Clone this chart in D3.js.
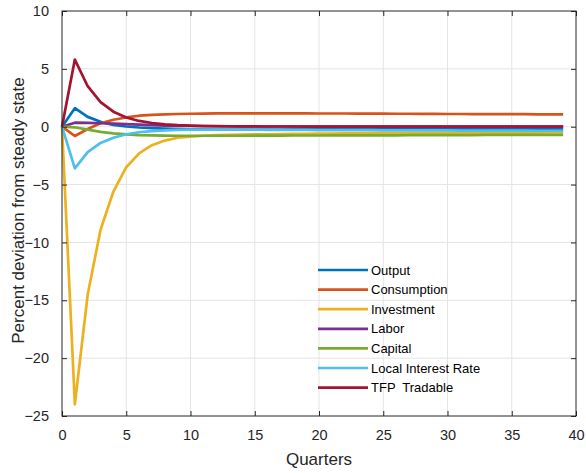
<!DOCTYPE html>
<html>
<head>
<meta charset="utf-8">
<script src="https://cdn.jsdelivr.net/npm/d3@7/dist/d3.min.js"></script>
<style>
  html, body { margin: 0; padding: 0; background: #fff; }
  svg { display: block; font-family: "Liberation Sans", Arial, Helvetica, sans-serif; }
</style>
</head>
<body>
<svg id="chart" width="586" height="473"></svg>
<script>
// Impulse responses to a tradable TFP shock, quarters 0..39
const quarters = d3.range(0, 40);

const output = [0, 1.6, 0.85, 0.42, 0.16, 0.02, -0.07, -0.13, -0.17, -0.2, -0.22, -0.23, -0.24, -0.24, -0.24, -0.24, -0.24, -0.24, -0.23, -0.23,
  -0.23, -0.23, -0.22, -0.22, -0.22, -0.22, -0.21, -0.21, -0.21, -0.21, -0.21, -0.2, -0.2, -0.2, -0.2, -0.2, -0.2, -0.2, -0.2, -0.2];
const consumption = [0, -0.8, -0.2, 0.3, 0.6, 0.8, 0.95, 1.02, 1.07, 1.1, 1.12, 1.13, 1.15, 1.15, 1.15, 1.15, 1.15, 1.15, 1.15, 1.15,
  1.14, 1.14, 1.14, 1.13, 1.13, 1.13, 1.12, 1.12, 1.11, 1.11, 1.1, 1.1, 1.09, 1.09, 1.08, 1.08, 1.08, 1.07, 1.07, 1.07];
const investment = [0, -24.0, -14.5, -8.9, -5.6, -3.5, -2.3, -1.6, -1.2, -0.95, -0.85, -0.78, -0.73, -0.7, -0.68, -0.66, -0.65, -0.63, -0.62, -0.61,
  -0.6, -0.59, -0.58, -0.57, -0.56, -0.56, -0.55, -0.55, -0.54, -0.54, -0.53, -0.53, -0.52, -0.52, -0.52, -0.51, -0.51, -0.51, -0.5, -0.5];
const labor = [0, 0.35, 0.33, 0.3, 0.26, 0.22, 0.18, 0.14, 0.1, 0.08, 0.06, 0.05, 0.04, 0.03, 0.03, 0.02, 0.02, 0.02, 0.02, 0.01,
  0.01, 0.01, 0.01, 0.01, 0.01, 0.01, 0.01, 0.01, 0.01, 0.01, 0, 0, 0, 0, 0, 0, 0, 0, 0, 0];
const capital = [0, -0.05, -0.25, -0.45, -0.58, -0.66, -0.72, -0.75, -0.77, -0.78, -0.78, -0.78, -0.78, -0.78, -0.78, -0.77, -0.77, -0.77, -0.76, -0.76,
  -0.76, -0.75, -0.75, -0.75, -0.74, -0.74, -0.74, -0.73, -0.73, -0.73, -0.72, -0.72, -0.72, -0.71, -0.71, -0.71, -0.7, -0.7, -0.7, -0.7];
const localRate = [0, -3.6, -2.2, -1.4, -0.95, -0.65, -0.48, -0.38, -0.32, -0.28, -0.26, -0.25, -0.25, -0.25, -0.26, -0.26, -0.27, -0.27, -0.28, -0.28,
  -0.29, -0.29, -0.3, -0.3, -0.3, -0.31, -0.31, -0.31, -0.32, -0.32, -0.32, -0.33, -0.33, -0.33, -0.34, -0.34, -0.34, -0.35, -0.35, -0.35];
const tfpTradable = [0, 5.8, 3.5, 2.12, 1.3, 0.8, 0.5, 0.32, 0.2, 0.13, 0.09, 0.06, 0.05, 0.04, 0.03, 0.03, 0.02, 0.02, 0.02, 0.02,
  0.02, 0.02, 0.02, 0.02, 0.02, 0.02, 0.02, 0.02, 0.02, 0.02, 0.02, 0.02, 0.02, 0.02, 0.02, 0.02, 0.02, 0.02, 0.02, 0.02];

const seriesNames = ["Output", "Consumption", "Investment", "Labor", "Capital", "Local Interest Rate", "TFP  Tradable"];
const seriesValues = [output, consumption, investment, labor, capital, localRate, tfpTradable];
const seriesColors = ["#0072BD", "#D95319", "#EDB120", "#7E2F8E", "#77AC30", "#4DBEEE", "#A2142F"];

const xTicks = [0, 5, 10, 15, 20, 25, 30, 35, 40];
const yTicks = [-25, -20, -15, -10, -5, 0, 5, 10];

const svg = d3.select("#chart");
const plot = { left: 62, right: 576, top: 11, bottom: 416 };

const x = d3.scaleLinear().domain([0, 40]).range([plot.left, plot.right]);
const y = d3.scaleLinear().domain([-25, 10]).range([plot.bottom, plot.top]);

const axisColor = "#262626";
const gridColor = "#e4e4e4";

// grid lines
const grid = svg.append("g");
grid.selectAll("line.vx").data(xTicks.slice(1, -1)).join("line")
  .attr("x1", d => x(d)).attr("x2", d => x(d))
  .attr("y1", plot.top).attr("y2", plot.bottom)
  .attr("stroke", gridColor).attr("stroke-width", 1);
grid.selectAll("line.hy").data(yTicks.slice(1, -1)).join("line")
  .attr("x1", plot.left).attr("x2", plot.right)
  .attr("y1", d => y(d)).attr("y2", d => y(d))
  .attr("stroke", gridColor).attr("stroke-width", 1);

// series lines
const line = d3.line().x((d, i) => x(quarters[i])).y(d => y(d));
svg.append("g").selectAll("path").data(seriesValues).join("path")
  .attr("d", d => line(d))
  .attr("fill", "none")
  .attr("stroke", (d, i) => seriesColors[i])
  .attr("stroke-width", 2.7)
  .attr("stroke-linejoin", "round");

// axes: ticks pointing inward on all four sides
const tickLen = 5;
const bottomAxis = d3.axisBottom(x).tickValues(xTicks).tickSize(tickLen).tickPadding(9).tickFormat(d3.format("d"));
const topAxis = d3.axisTop(x).tickValues(xTicks).tickSize(tickLen).tickFormat("");
const leftAxis = d3.axisLeft(y).tickValues(yTicks).tickSize(tickLen).tickPadding(8).tickFormat(d3.format("d"));
const rightAxis = d3.axisRight(y).tickValues(yTicks).tickSize(tickLen).tickFormat("");

function styleAxis(g) {
  g.select(".domain").attr("stroke", axisColor).attr("stroke-width", 1);
  g.selectAll(".tick line").attr("stroke", axisColor).attr("stroke-width", 1);
  g.selectAll(".tick text").attr("fill", axisColor).attr("font-size", 14.5)
    .attr("font-family", "'Liberation Sans', Arial, Helvetica, sans-serif");
}

const gb = svg.append("g").attr("transform", `translate(0,${plot.bottom})`).call(bottomAxis).call(styleAxis);
gb.selectAll(".tick line").attr("y2", -tickLen);
const gt = svg.append("g").attr("transform", `translate(0,${plot.top})`).call(topAxis).call(styleAxis);
gt.selectAll(".tick line").attr("y2", tickLen);
const gl = svg.append("g").attr("transform", `translate(${plot.left},0)`).call(leftAxis).call(styleAxis);
gl.selectAll(".tick line").attr("x2", tickLen);
const gr = svg.append("g").attr("transform", `translate(${plot.right},0)`).call(rightAxis).call(styleAxis);
gr.selectAll(".tick line").attr("x2", -tickLen);
[gb, gt, gl, gr].forEach(g => g.select(".domain").attr("d", null));

// plot box
svg.append("rect")
  .attr("x", plot.left).attr("y", plot.top)
  .attr("width", plot.right - plot.left).attr("height", plot.bottom - plot.top)
  .attr("fill", "none").attr("stroke", axisColor).attr("stroke-width", 1);

// axis titles
svg.append("text")
  .attr("x", (plot.left + plot.right) / 2).attr("y", 465)
  .attr("text-anchor", "middle").attr("font-size", 17).attr("fill", axisColor)
  .text("Quarters");
svg.append("text")
  .attr("transform", `translate(24,${(plot.top + plot.bottom) / 2 - 3}) rotate(-90)`)
  .attr("text-anchor", "middle").attr("font-size", 17).attr("fill", axisColor)
  .text("Percent deviation from steady state");

// legend
const legend = svg.append("g").attr("transform", "translate(318,270)");
const rowH = 19.6;
const entries = legend.selectAll("g").data(seriesNames).join("g")
  .attr("transform", (d, i) => `translate(0,${i * rowH})`);
entries.append("line")
  .attr("x1", 0).attr("x2", 50).attr("y1", 0).attr("y2", 0)
  .attr("stroke", (d, i) => seriesColors[i]).attr("stroke-width", 2.7);
entries.append("text")
  .attr("x", 53).attr("y", 0).attr("dy", "0.35em")
  .attr("font-size", 13).attr("fill", "#000")
  .style("white-space", "pre")
  .text(d => d);
</script>
</body>
</html>
